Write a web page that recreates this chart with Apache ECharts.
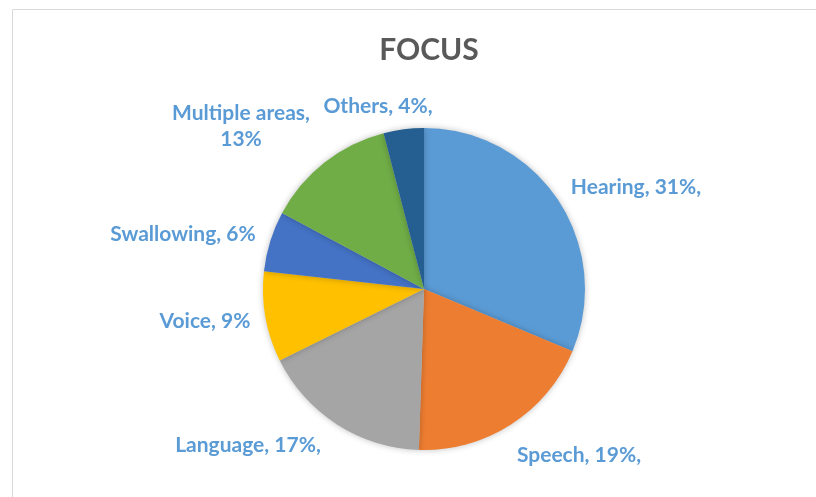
<!DOCTYPE html>
<html>
<head>
<meta charset="utf-8">
<script src="https://cdn.jsdelivr.net/npm/echarts@6/dist/echarts.min.js"></script>
<style>
  html, body { margin: 0; padding: 0; background: #fff; }
  #chart { width: 816px; height: 497px; }
</style>
</head>
<body>
<div id="chart"></div>
<script>
const categories = ['Hearing', 'Speech', 'Language', 'Voice', 'Swallowing', 'Multiple areas', 'Others'];
const values = [31, 19, 17, 9, 6, 13, 4];
const labelTexts = ['Hearing, 31%,', 'Speech, 19%,', 'Language, 17%,', 'Voice, 9%', 'Swallowing, 6%', 'Multiple areas,\n13%', 'Others, 4%,'];
const colors = ['#5B9BD5', '#ED7D31', '#A5A5A5', '#FFC000', '#4472C4', '#70AD47', '#255E91'];

// label centres
const labelPos = [[636, 187], [579, 455], [248, 445], [205, 321], [183, 234], [241, 126], [378, 106]];

const chart = echarts.init(document.getElementById('chart'));

chart.setOption({
  animation: false,
  title: {
    text: 'FOCUS',
    left: 424,
    textAlign: 'center',
    top: 30,
    textStyle: { fontFamily: 'Lato', fontWeight: 'bold', fontSize: 30, color: '#595959' }
  },
  graphic: [{
    type: 'rect',
    shape: { x: 12.5, y: 9.5, width: 900, height: 600 },
    style: { fill: 'none', stroke: '#d9d9d9', lineWidth: 1 }
  }],
  series: [{
    type: 'pie',
    center: [424, 289],
    radius: 161,
    startAngle: 90,
    clockwise: true,
    itemStyle: { shadowBlur: 6, shadowColor: 'rgba(0,0,0,0.25)' },
    label: {
      show: true,
      position: 'outside',
      fontFamily: 'Lato',
      fontWeight: 'bold',
      fontSize: 21,
      lineHeight: 26,
      color: '#5B9BD5',
      align: 'center',
      formatter: p => labelTexts[p.dataIndex]
    },
    labelLine: { show: false },
    labelLayout: p => ({
      x: labelPos[p.dataIndex][0],
      y: labelPos[p.dataIndex][1],
      align: 'center',
      verticalAlign: 'middle'
    }),
    data: categories.map((c, i) => ({ name: c, value: values[i], itemStyle: { color: colors[i] } }))
  }]
});
</script>
</body>
</html>
